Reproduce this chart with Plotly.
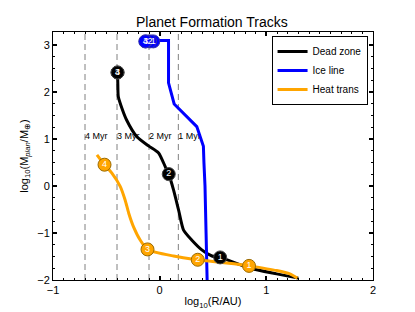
import plotly.graph_objects as go

# ---- data ----
dead_x = [-0.395, -0.392, -0.388, -0.354, -0.31, -0.216, -0.105, -0.01, 0.052, 0.085, 0.13, 0.177, 0.224, 0.30, 0.395, 0.49, 0.567, 0.848, 1.097, 1.30]
dead_y = [2.41, 2.15, 1.9, 1.65, 1.40, 1.05, 0.85, 0.70, 0.41, 0.25, -0.085, -0.51, -0.94, -1.15, -1.36, -1.49, -1.52, -1.75, -1.87, -1.96]

ice_x = [-0.06, 0.083, 0.083, 0.136, 0.348, 0.41, 0.415, 0.425, 0.435, 0.445]
ice_y = [3.09, 3.09, 2.19, 1.74, 1.26, 0.84, 0.5, 0.0, -1.0, -2.0]

heat_x = [-0.588, -0.517, -0.448, -0.37, -0.324, -0.29, -0.245, -0.183, -0.114, 0.13, 0.357, 0.75, 0.838, 1.097, 1.22, 1.29]
heat_y = [0.66, 0.45, 0.27, -0.01, -0.30, -0.58, -0.87, -1.15, -1.35, -1.49, -1.57, -1.67, -1.70, -1.80, -1.87, -1.96]

marker_labels = ["1", "2", "3", "4"]
dead_mx = [0.567, 0.085, -0.395, -0.395]
dead_my = [-1.52, 0.25, 2.41, 2.41]
ice_mx = [-0.06, -0.09, -0.13, -0.135]
ice_my = [3.07, 3.07, 3.07, 3.07]
heat_mx = [0.838, 0.357, -0.114, -0.517]
heat_my = [-1.70, -1.57, -1.35, 0.45]

age_x = [0.175, -0.10, -0.40, -0.70]
age_labels = ["1 Myr", "2 Myr", "3 Myr", "4 Myr"]
age_label_y = 1.05

x_range = [-1, 2]
y_range = [-2, 3.27]

BLACK = "#000000"
BLUE = "#0000FF"
ORANGE = "#FFA500"

fig = go.Figure()

# dashed age lines
for ax in age_x:
    fig.add_trace(go.Scatter(x=[ax, ax], y=y_range, mode="lines",
                             line=dict(color="#808080", width=1, dash="6px,4px"),
                             showlegend=False, hoverinfo="skip"))
fig.add_trace(go.Scatter(x=age_x, y=[age_label_y] * len(age_x), mode="text",
                         text=age_labels, textposition="middle right",
                         textfont=dict(size=9, color="black"),
                         showlegend=False, hoverinfo="skip"))

# tracks
fig.add_trace(go.Scatter(x=dead_x, y=dead_y, mode="lines", name="Dead zone",
                         line=dict(color=BLACK, width=3, shape="spline", smoothing=0.6)))
fig.add_trace(go.Scatter(x=ice_x, y=ice_y, mode="lines", name="Ice line",
                         line=dict(color=BLUE, width=3)))
fig.add_trace(go.Scatter(x=heat_x, y=heat_y, mode="lines", name="Heat trans",
                         line=dict(color=ORANGE, width=3, shape="spline", smoothing=0.6)))

# numbered markers
def add_markers(mx, my, fill, edge, tcolor):
    fig.add_trace(go.Scatter(x=mx, y=my, mode="markers+text", text=marker_labels,
                             textposition="middle center",
                             textfont=dict(size=9, color=tcolor),
                             marker=dict(size=13, color=fill, line=dict(color=edge, width=1)),
                             showlegend=False, hoverinfo="skip"))

add_markers(dead_mx, dead_my, BLACK, "#444444", "white")
add_markers(ice_mx, ice_my, BLUE, "#3333AA", "white")
add_markers(heat_mx, heat_my, ORANGE, "#9A6A00", "white")

axis_common = dict(showgrid=False, zeroline=False, showline=True, linecolor="black",
                   linewidth=1, mirror="allticks", ticks="inside", ticklen=4,
                   tickcolor="black", tickwidth=2, automargin=False,
                   tickfont=dict(size=11, color="black"))

fig.update_xaxes(range=x_range, dtick=1, tick0=0,
                 minor=dict(ticks="inside", ticklen=2, dtick=0.1, tickcolor="black", tickwidth=1),
                 title=dict(text="log<sub>10</sub>(R/AU)", font=dict(size=11, color="black"), standoff=2),
                 **axis_common)
fig.update_yaxes(range=y_range, dtick=1, tick0=0,
                 minor=dict(ticks="inside", ticklen=2, dtick=0.25, tickcolor="black", tickwidth=1),
                 title=dict(text="log<sub>10</sub>(M<sub><i>plan</i></sub>/M<sub>⊕</sub>)",
                            font=dict(size=11, color="black"), standoff=6),
                 **axis_common)

# the page adds an 8px body margin, so the figure is a bit smaller and margins are shifted
fig.update_layout(
    width=407, height=304,
    margin=dict(l=45, r=42, t=24, b=32),
    paper_bgcolor="white", plot_bgcolor="white",
    font=dict(family="Liberation Sans, Arial, sans-serif", color="black"),
    title=dict(text="Planet Formation Tracks", x=0.501, xanchor="center", y=0.952, yanchor="middle",
               font=dict(size=14, color="black")),
    legend=dict(x=0.983, y=0.984, xanchor="right", yanchor="top",
                bordercolor="black", borderwidth=1, bgcolor="white",
                font=dict(size=10, color="black"), tracegroupgap=0,
                itemwidth=30),
)

fig.write_html("out.html")
